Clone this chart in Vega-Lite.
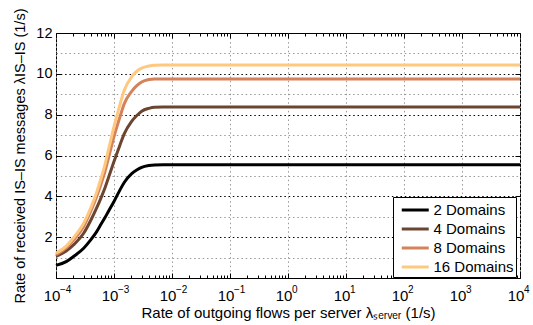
{
  "$schema": "https://vega.github.io/schema/vega-lite/v6.json",
  "width": 464,
  "height": 245,
  "autosize": {"type": "none"},
  "padding": {"left": 56, "top": 33, "right": 13, "bottom": 47},
  "config": {
    "font": "Liberation Sans",
    "view": {"stroke": "black", "strokeWidth": 1},
    "axis": {"labelFont": "Liberation Sans", "titleFont": "Liberation Sans", "labelColor": "black", "titleColor": "black", "titleFontWeight": "normal"}
  },
  "data": {
    "values": [
      {"x": 0.0001, "y": 0.62, "s": "2 Domains"},
      {"x": 0.00015, "y": 0.80, "s": "2 Domains"},
      {"x": 0.0002, "y": 1.05, "s": "2 Domains"},
      {"x": 0.0003, "y": 1.46, "s": "2 Domains"},
      {"x": 0.0004, "y": 1.88, "s": "2 Domains"},
      {"x": 0.0005, "y": 2.26, "s": "2 Domains"},
      {"x": 0.0006, "y": 2.64, "s": "2 Domains"},
      {"x": 0.0007, "y": 2.96, "s": "2 Domains"},
      {"x": 0.0008, "y": 3.26, "s": "2 Domains"},
      {"x": 0.001, "y": 3.75, "s": "2 Domains"},
      {"x": 0.00125, "y": 4.28, "s": "2 Domains"},
      {"x": 0.0015, "y": 4.68, "s": "2 Domains"},
      {"x": 0.002, "y": 5.10, "s": "2 Domains"},
      {"x": 0.0025, "y": 5.30, "s": "2 Domains"},
      {"x": 0.003, "y": 5.42, "s": "2 Domains"},
      {"x": 0.004, "y": 5.51, "s": "2 Domains"},
      {"x": 0.005, "y": 5.54, "s": "2 Domains"},
      {"x": 0.007, "y": 5.55, "s": "2 Domains"},
      {"x": 0.01, "y": 5.55, "s": "2 Domains"},
      {"x": 10000, "y": 5.55, "s": "2 Domains"},
      {"x": 0.0001, "y": 1.06, "s": "4 Domains"},
      {"x": 0.00015, "y": 1.32, "s": "4 Domains"},
      {"x": 0.0002, "y": 1.62, "s": "4 Domains"},
      {"x": 0.0003, "y": 2.19, "s": "4 Domains"},
      {"x": 0.0004, "y": 2.84, "s": "4 Domains"},
      {"x": 0.0005, "y": 3.42, "s": "4 Domains"},
      {"x": 0.0006, "y": 3.94, "s": "4 Domains"},
      {"x": 0.0007, "y": 4.42, "s": "4 Domains"},
      {"x": 0.0008, "y": 4.90, "s": "4 Domains"},
      {"x": 0.001, "y": 5.71, "s": "4 Domains"},
      {"x": 0.00125, "y": 6.47, "s": "4 Domains"},
      {"x": 0.0015, "y": 7.06, "s": "4 Domains"},
      {"x": 0.002, "y": 7.66, "s": "4 Domains"},
      {"x": 0.0025, "y": 7.97, "s": "4 Domains"},
      {"x": 0.003, "y": 8.17, "s": "4 Domains"},
      {"x": 0.004, "y": 8.31, "s": "4 Domains"},
      {"x": 0.005, "y": 8.36, "s": "4 Domains"},
      {"x": 0.007, "y": 8.37, "s": "4 Domains"},
      {"x": 0.01, "y": 8.37, "s": "4 Domains"},
      {"x": 10000, "y": 8.37, "s": "4 Domains"},
      {"x": 0.0001, "y": 1.14, "s": "8 Domains"},
      {"x": 0.00015, "y": 1.47, "s": "8 Domains"},
      {"x": 0.0002, "y": 1.86, "s": "8 Domains"},
      {"x": 0.0003, "y": 2.52, "s": "8 Domains"},
      {"x": 0.0004, "y": 3.29, "s": "8 Domains"},
      {"x": 0.0005, "y": 3.97, "s": "8 Domains"},
      {"x": 0.0006, "y": 4.62, "s": "8 Domains"},
      {"x": 0.0007, "y": 5.23, "s": "8 Domains"},
      {"x": 0.0008, "y": 5.86, "s": "8 Domains"},
      {"x": 0.001, "y": 6.93, "s": "8 Domains"},
      {"x": 0.00125, "y": 7.84, "s": "8 Domains"},
      {"x": 0.0015, "y": 8.53, "s": "8 Domains"},
      {"x": 0.002, "y": 9.13, "s": "8 Domains"},
      {"x": 0.0025, "y": 9.43, "s": "8 Domains"},
      {"x": 0.003, "y": 9.60, "s": "8 Domains"},
      {"x": 0.004, "y": 9.72, "s": "8 Domains"},
      {"x": 0.005, "y": 9.75, "s": "8 Domains"},
      {"x": 0.007, "y": 9.75, "s": "8 Domains"},
      {"x": 0.01, "y": 9.75, "s": "8 Domains"},
      {"x": 10000, "y": 9.75, "s": "8 Domains"},
      {"x": 0.0001, "y": 1.22, "s": "16 Domains"},
      {"x": 0.00015, "y": 1.56, "s": "16 Domains"},
      {"x": 0.0002, "y": 1.97, "s": "16 Domains"},
      {"x": 0.0003, "y": 2.68, "s": "16 Domains"},
      {"x": 0.0004, "y": 3.45, "s": "16 Domains"},
      {"x": 0.0005, "y": 4.18, "s": "16 Domains"},
      {"x": 0.0006, "y": 4.90, "s": "16 Domains"},
      {"x": 0.0007, "y": 5.57, "s": "16 Domains"},
      {"x": 0.0008, "y": 6.26, "s": "16 Domains"},
      {"x": 0.001, "y": 7.42, "s": "16 Domains"},
      {"x": 0.00125, "y": 8.43, "s": "16 Domains"},
      {"x": 0.0015, "y": 9.19, "s": "16 Domains"},
      {"x": 0.002, "y": 9.84, "s": "16 Domains"},
      {"x": 0.0025, "y": 10.14, "s": "16 Domains"},
      {"x": 0.003, "y": 10.28, "s": "16 Domains"},
      {"x": 0.004, "y": 10.38, "s": "16 Domains"},
      {"x": 0.005, "y": 10.42, "s": "16 Domains"},
      {"x": 0.007, "y": 10.43, "s": "16 Domains"},
      {"x": 0.01, "y": 10.43, "s": "16 Domains"},
      {"x": 10000, "y": 10.43, "s": "16 Domains"}
    ]
  },
  "layer": [
    {
      "mark": {"type": "line", "strokeWidth": 3, "interpolate": "monotone"},
      "encoding": {
        "x": {
          "field": "x", "type": "quantitative",
          "scale": {"type": "log", "domain": [0.0001, 10000]},
          "axis": {
            "orient": "bottom",
            "values": [0.0001, 0.001, 0.01, 0.1, 1, 10, 100, 1000, 10000],
            "labelExpr": "'10'",
            "labelFlush": false,
            "labelOverlap": false,
            "labelFontSize": 15,
            "labelBaseline": "alphabetic",
            "labelPadding": 22,
            "labelOffset": -4.5,
            "ticks": false,
            "domain": false,
            "grid": true,
            "gridColor": "#9a9a9a",
            "gridDash": [1.5, 2.8],
            "title": "Rate of outgoing flows per server λₛₑᵣᵥₑᵣ (1/s)",
            "titleFontSize": 15,
            "titlePadding": 2
          }
        },
        "y": {
          "field": "y", "type": "quantitative",
          "scale": {"domain": [0, 12], "nice": false},
          "axis": {
            "orient": "left",
            "values": [0, 1, 2, 3, 4, 5, 6, 7, 8, 9, 10, 11, 12],
            "labelExpr": "datum.value % 2 == 0 && datum.value > 0 ? datum.label : ''",
            "labelFontSize": 14.5,
            "labelPadding": 4,
            "ticks": false,
            "domain": false,
            "grid": true,
            "gridColor": {"condition": {"test": "datum.value % 2 == 0", "value": "#000000"}, "value": "#9a9a9a"},
            "gridDash": [1.5, 2.8],
            "title": "Rate of received IS–IS messages λIS–IS (1/s)",
            "titleFontSize": 14.5,
            "titlePadding": 8
          }
        },
        "color": {
          "field": "s", "type": "nominal",
          "scale": {
            "domain": ["2 Domains", "4 Domains", "8 Domains", "16 Domains"],
            "range": ["#000000", "#6b4530", "#d4825a", "#ffc880"]
          },
          "legend": {
            "title": null,
            "orient": "none",
            "legendX": 337,
            "legendY": 164,
            "strokeColor": "black",
            "fillColor": "white",
            "padding": 2,
            "symbolOffset": 9.25,
            "symbolType": "M-1.46,0H1.46",
            "symbolStrokeWidth": 3,
            "symbolSize": 342,
            "labelFontSize": 15,
            "labelFont": "Liberation Sans",
            "labelColor": "black",
            "labelOffset": 7.25,
            "rowPadding": 0,
            "cornerRadius": 0
          }
        }
      }
    },
    {
      "mark": {"type": "point", "opacity": 0},
      "encoding": {
        "x": {
          "field": "x", "type": "quantitative",
          "scale": {"type": "log", "domain": [0.0001, 10000]},
          "axis": {
            "orient": "bottom",
            "values": [0.0001, 0.001, 0.01, 0.1, 1, 10, 100, 1000, 10000],
            "labelExpr": "replace(toString(round(log(datum.value)/LN10)),'-','−')",
            "labelFlush": false,
            "labelOverlap": false,
            "labelFontSize": 10,
            "labelAlign": "left",
            "labelBaseline": "alphabetic",
            "labelPadding": 14,
            "labelOffset": 3.5,
            "ticks": false, "grid": false, "domain": false, "title": null
          }
        },
        "y": {"field": "y", "type": "quantitative", "scale": {"domain": [0, 12], "nice": false}, "axis": null}
      }
    },
    {
      "mark": {"type": "point", "opacity": 0},
      "encoding": {
        "x": {
          "field": "x", "type": "quantitative",
          "scale": {"type": "log", "domain": [0.0001, 10000]},
          "axis": {
            "orient": "bottom",
            "values": [0.0001,0.0002,0.0003,0.0004,0.0005,0.0006,0.0007,0.0008,0.0009,0.001,0.002,0.003,0.004,0.005,0.006,0.007,0.008,0.009,0.01,0.02,0.03,0.04,0.05,0.06,0.07,0.08,0.09,0.1,0.2,0.3,0.4,0.5,0.6,0.7,0.8,0.9,1,2,3,4,5,6,7,8,9,10,20,30,40,50,60,70,80,90,100,200,300,400,500,600,700,800,900,1000,2000,3000,4000,5000,6000,7000,8000,9000,10000],
            "labels": false, "grid": false, "domain": false, "ticks": true, "title": null,
            "tickColor": "black", "tickWidth": 1,
            "tickSize": {"condition": {"test": "abs(log(datum.value)/LN10 - round(log(datum.value)/LN10)) < 0.01", "value": -5}, "value": -3}
          }
        },
        "y": {"field": "y", "type": "quantitative", "scale": {"domain": [0, 12], "nice": false}, "axis": null}
      }
    },
    {
      "mark": {"type": "point", "opacity": 0},
      "encoding": {
        "x": {
          "field": "x", "type": "quantitative",
          "scale": {"type": "log", "domain": [0.0001, 10000]},
          "axis": {
            "orient": "top",
            "values": [0.0001,0.0002,0.0003,0.0004,0.0005,0.0006,0.0007,0.0008,0.0009,0.001,0.002,0.003,0.004,0.005,0.006,0.007,0.008,0.009,0.01,0.02,0.03,0.04,0.05,0.06,0.07,0.08,0.09,0.1,0.2,0.3,0.4,0.5,0.6,0.7,0.8,0.9,1,2,3,4,5,6,7,8,9,10,20,30,40,50,60,70,80,90,100,200,300,400,500,600,700,800,900,1000,2000,3000,4000,5000,6000,7000,8000,9000,10000],
            "labels": false, "grid": false, "domain": false, "ticks": true, "title": null,
            "tickColor": "black", "tickWidth": 1,
            "tickSize": {"condition": {"test": "abs(log(datum.value)/LN10 - round(log(datum.value)/LN10)) < 0.01", "value": -5}, "value": -3}
          }
        },
        "y": {"field": "y", "type": "quantitative", "scale": {"domain": [0, 12], "nice": false}, "axis": null}
      }
    },
    {
      "mark": {"type": "point", "opacity": 0},
      "encoding": {
        "x": {"field": "x", "type": "quantitative", "scale": {"type": "log", "domain": [0.0001, 10000]}, "axis": null},
        "y": {
          "field": "y", "type": "quantitative", "scale": {"domain": [0, 12], "nice": false},
          "axis": {"orient": "left", "values": [0, 2, 4, 6, 8, 10, 12], "labels": false, "grid": false, "domain": false, "ticks": true, "title": null, "tickColor": "black", "tickWidth": 1, "tickSize": -5}
        }
      }
    },
    {
      "mark": {"type": "point", "opacity": 0},
      "encoding": {
        "x": {"field": "x", "type": "quantitative", "scale": {"type": "log", "domain": [0.0001, 10000]}, "axis": null},
        "y": {
          "field": "y", "type": "quantitative", "scale": {"domain": [0, 12], "nice": false},
          "axis": {"orient": "right", "values": [0, 2, 4, 6, 8, 10, 12], "labels": false, "grid": false, "domain": false, "ticks": true, "title": null, "tickColor": "black", "tickWidth": 1, "tickSize": -5}
        }
      }
    }
  ],
  "resolve": {"axis": {"x": "independent", "y": "independent"}}
}
